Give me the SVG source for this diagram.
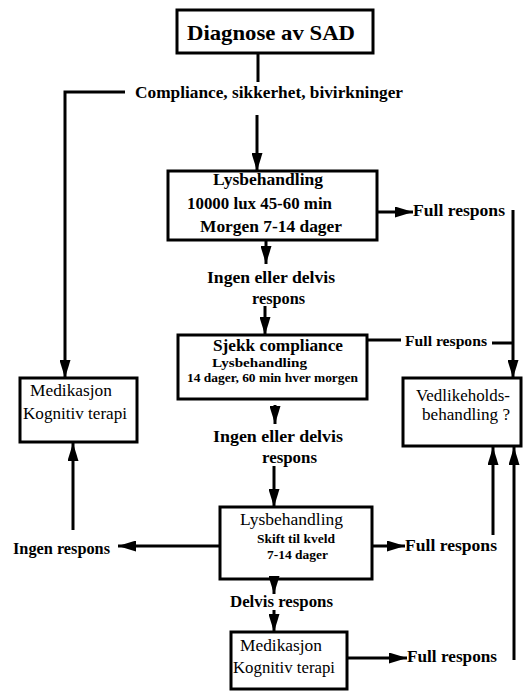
<svg xmlns="http://www.w3.org/2000/svg" width="524" height="694" viewBox="0 0 524 694">
<style>
.box{fill:none;stroke:#000;stroke-width:3}
.c{fill:none;stroke:#000;stroke-width:3}
.b{font-family:"Liberation Serif","Times New Roman",serif;font-weight:bold;fill:#000}
.r{font-family:"Liberation Serif","Times New Roman",serif;font-weight:normal;fill:#000}
</style>
<defs>
<marker id="ah" markerUnits="userSpaceOnUse" markerWidth="18" markerHeight="11" refX="18" refY="5.5" orient="auto">
<path d="M0,0 L18,5.5 L0,11 z" fill="#000"/>
</marker>
</defs>
<rect width="524" height="694" fill="#fff"/>
<g id="connectors">
<line class="c" x1="258" y1="53" x2="258" y2="82"/>
<polyline class="c" points="125,92 65,92 65,378" marker-end="url(#ah)"/>
<line class="c" x1="257" y1="115" x2="257" y2="171" marker-end="url(#ah)"/>
<line class="c" x1="377" y1="212" x2="413" y2="212" marker-end="url(#ah)"/>
<line class="c" x1="513" y1="210" x2="513" y2="378" marker-end="url(#ah)"/>
<line class="c" x1="266" y1="240" x2="266" y2="264" marker-end="url(#ah)"/>
<line class="c" x1="265" y1="306" x2="265" y2="335" marker-end="url(#ah)"/>
<line class="c" x1="367" y1="340" x2="401" y2="340"/>
<line class="c" x1="492" y1="343" x2="513" y2="343"/>
<line class="c" x1="275" y1="405" x2="275" y2="424" marker-end="url(#ah)"/>
<line class="c" x1="274" y1="466" x2="274" y2="507" marker-end="url(#ah)"/>
<line class="c" x1="220" y1="546" x2="118" y2="546" marker-end="url(#ah)"/>
<line class="c" x1="73" y1="530" x2="73" y2="443" marker-end="url(#ah)"/>
<line class="c" x1="372" y1="546" x2="405" y2="546" marker-end="url(#ah)"/>
<line class="c" x1="493" y1="535" x2="493" y2="447" marker-end="url(#ah)"/>
<line class="c" x1="274" y1="579" x2="274" y2="594" marker-end="url(#ah)"/>
<line class="c" x1="274" y1="610" x2="274" y2="632" marker-end="url(#ah)"/>
<line class="c" x1="347" y1="658" x2="407" y2="658" marker-end="url(#ah)"/>
<line class="c" x1="514" y1="660" x2="514" y2="447" marker-end="url(#ah)"/>
</g>
<g id="diagnose">
<rect class="box" x="177" y="10" width="196" height="43"/>
<text class="b" x="187" y="40" font-size="22" textLength="168" lengthAdjust="spacingAndGlyphs">Diagnose av SAD</text>
</g>
<g id="compliance-label">
<text class="b" x="135" y="98" font-size="16" textLength="268" lengthAdjust="spacingAndGlyphs">Compliance, sikkerhet, bivirkninger</text>
</g>
<g id="lysbehandling1">
<rect class="box" x="168" y="171" width="209" height="69"/>
<text class="b" x="213" y="185" font-size="16" textLength="110" lengthAdjust="spacingAndGlyphs">Lysbehandling</text>
<text class="b" x="187" y="209" font-size="16" textLength="145" lengthAdjust="spacingAndGlyphs">10000 lux 45-60 min</text>
<text class="b" x="200" y="232" font-size="16" textLength="142" lengthAdjust="spacingAndGlyphs">Morgen 7-14 dager</text>
</g>
<g id="full1">
<text class="b" x="413" y="216" font-size="16" textLength="92" lengthAdjust="spacingAndGlyphs">Full respons</text>
</g>
<g id="ingen1">
<text class="b" x="207" y="283" font-size="16" textLength="128" lengthAdjust="spacingAndGlyphs">Ingen eller delvis</text>
<text class="b" x="252" y="304" font-size="16" textLength="53" lengthAdjust="spacingAndGlyphs">respons</text>
</g>
<g id="sjekk">
<rect class="box" x="178" y="335" width="189" height="64"/>
<text class="b" x="213" y="351" font-size="16" textLength="130" lengthAdjust="spacingAndGlyphs">Sjekk compliance</text>
<text class="b" x="212" y="367" font-size="12" textLength="95" lengthAdjust="spacingAndGlyphs">Lysbehandling</text>
<text class="b" x="187" y="382" font-size="12" textLength="171" lengthAdjust="spacingAndGlyphs">14 dager, 60 min hver morgen</text>
</g>
<g id="full2">
<text class="b" x="405" y="346" font-size="15" textLength="82" lengthAdjust="spacingAndGlyphs">Full respons</text>
</g>
<g id="medikasjon1">
<rect class="box" x="20" y="378" width="117" height="64"/>
<text class="r" x="30" y="396" font-size="17" textLength="82" lengthAdjust="spacingAndGlyphs">Medikasjon</text>
<text class="r" x="23" y="419" font-size="17" textLength="104" lengthAdjust="spacingAndGlyphs">Kognitiv terapi</text>
</g>
<g id="vedlikehold">
<rect class="box" x="403" y="378" width="118" height="68"/>
<text class="r" x="416" y="401" font-size="17" textLength="94" lengthAdjust="spacingAndGlyphs">Vedlikeholds-</text>
<text class="r" x="422" y="420" font-size="17" textLength="88" lengthAdjust="spacingAndGlyphs">behandling ?</text>
</g>
<g id="ingen2">
<text class="b" x="213" y="442" font-size="16" textLength="130" lengthAdjust="spacingAndGlyphs">Ingen eller delvis</text>
<text class="b" x="262" y="463" font-size="16" textLength="55" lengthAdjust="spacingAndGlyphs">respons</text>
</g>
<g id="lysbehandling2">
<rect class="box" x="220" y="507" width="152" height="72"/>
<text class="r" x="240" y="525" font-size="17" textLength="103" lengthAdjust="spacingAndGlyphs">Lysbehandling</text>
<text class="b" x="257" y="543" font-size="12" textLength="78" lengthAdjust="spacingAndGlyphs">Skift til kveld</text>
<text class="b" x="267" y="559" font-size="12" textLength="61" lengthAdjust="spacingAndGlyphs">7-14 dager</text>
</g>
<g id="ingen-respons">
<text class="b" x="13" y="554" font-size="16" textLength="97" lengthAdjust="spacingAndGlyphs">Ingen respons</text>
</g>
<g id="full3">
<text class="b" x="405" y="551" font-size="16" textLength="92" lengthAdjust="spacingAndGlyphs">Full respons</text>
</g>
<g id="delvis">
<text class="b" x="230" y="607" font-size="16" textLength="103" lengthAdjust="spacingAndGlyphs">Delvis respons</text>
</g>
<g id="medikasjon2">
<rect class="box" x="231" y="632" width="116" height="57"/>
<text class="r" x="240" y="651" font-size="17" textLength="82" lengthAdjust="spacingAndGlyphs">Medikasjon</text>
<text class="r" x="233" y="673" font-size="17" textLength="102" lengthAdjust="spacingAndGlyphs">Kognitiv terapi</text>
</g>
<g id="full4">
<text class="b" x="407" y="662" font-size="16" textLength="90" lengthAdjust="spacingAndGlyphs">Full respons</text>
</g>
</svg>
